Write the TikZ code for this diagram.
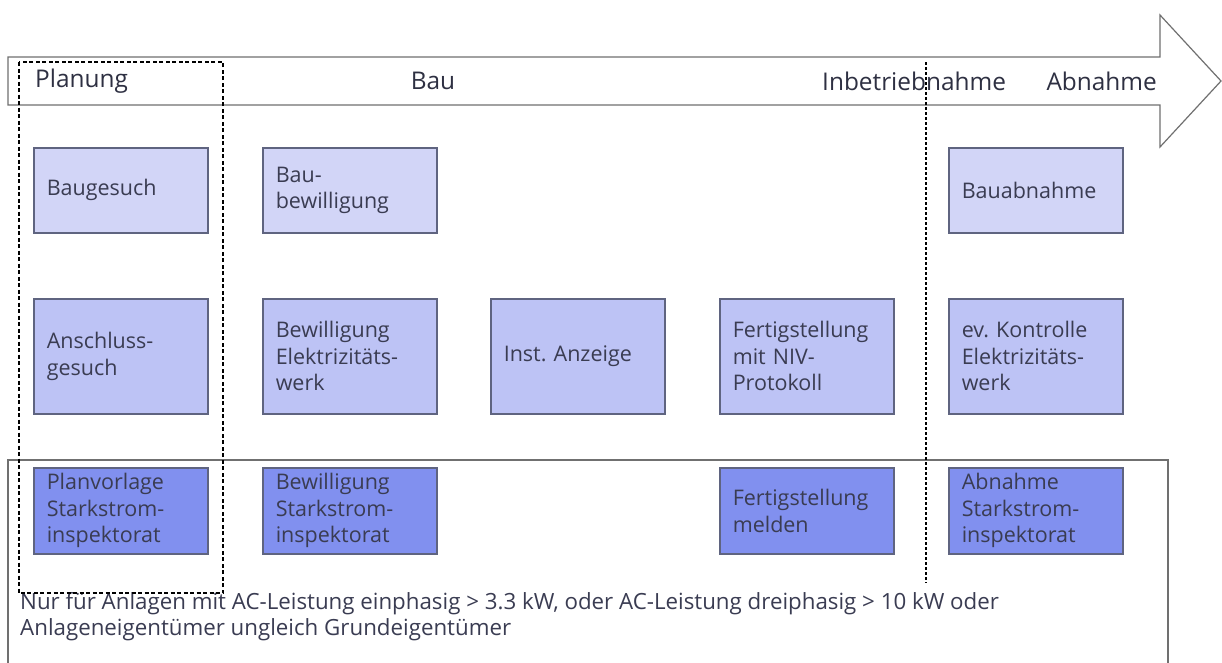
\documentclass[tikz,border=0pt]{standalone}
\usepackage{fontspec}
\setmainfont{Open Sans}
\frenchspacing
\definecolor{rowA}{HTML}{D2D5F7}
\definecolor{rowB}{HTML}{BDC3F5}
\definecolor{rowC}{HTML}{8190EF}
\definecolor{edgec}{HTML}{5F6480}
\definecolor{txt}{HTML}{3A3C52}
\definecolor{outl}{HTML}{707070}
\begin{document}
\begin{tikzpicture}[x=1pt,y=-1pt,
  box/.style={draw=edgec,line width=1.5pt,anchor=north west,minimum width=174pt,
    text width=148pt,align=left,inner sep=0pt,text=txt,
    font=\fontsize{21.5}{26.5}\selectfont},
  boxA/.style={box,fill=rowA,minimum height=85pt},
  boxB/.style={box,fill=rowB,minimum height=115pt},
  boxC/.style={box,fill=rowC,minimum height=86pt},
  phase/.style={inner sep=0pt,text=txt!80!black,font=\fontsize{24.4}{28}\selectfont},
  planline/.style={line width=2.5pt,dash pattern=on 4pt off 2.5pt},
  sepline/.style={line width=2.2pt,dash pattern=on 2.5pt off 2.5pt}]
\useasboundingbox (0,0) rectangle (1222,662);
\fill[white] (0,0) rectangle (1222,662);
% arrow
\draw[outl,line width=1.2pt] (8,57) -- (1160,57) -- (1160,15) -- (1221,81) -- (1160,147) -- (1160,105) -- (8,105) -- cycle;
% bottom frame
\draw[outl,line width=1.2pt] (8,664) -- (8,460) -- (1168,460) -- (1168,664);
% phase labels
\node[phase,anchor=west] (pPlan) at (35,81) {Planung};
\node[phase] (pBau) at (433,81) {Bau};
\node[phase,anchor=west] (pInb) at (822,81) {Inbetriebnahme};
\node[phase,anchor=east] (pAbn) at (1157,81) {Abnahme};
% row 1
\node[boxA] (a1) at (33,147) {Baugesuch};
\node[boxA] (a2) at (262,147) {Bau-\\bewilligung};
\node[boxA] (a5) at (948,147) {Bauabnahme};
% row 2
\node[boxB] (b1) at (33,298) {Anschluss-\\gesuch};
\node[boxB] (b2) at (262,298) {Bewilligung\\Elektrizitäts-\\werk};
\node[boxB] (b3) at (490,298) {Inst. Anzeige};
\node[boxB] (b4) at (719,298) {Fertigstellung\\mit NIV-\\Protokoll};
\node[boxB] (b5) at (948,298) {ev. Kontrolle\\Elektrizitäts-\\werk};
% row 3
\node[boxC] (c1) at (33,467) {Planvorlage\\Starkstrom-\\inspektorat};
\node[boxC] (c2) at (262,467) {Bewilligung\\Starkstrom-\\inspektorat};
\node[boxC] (c4) at (719,467) {Fertigstellung\\melden};
\node[boxC] (c5) at (948,467) {Abnahme\\Starkstrom-\\inspektorat};
% note
\node[anchor=west,align=left,inner sep=0pt,text=txt,font=\fontsize{22.3}{26}\selectfont] (note) at (20,617)
  {Nur für Anlagen mit AC-Leistung einphasig > 3.3 kW, oder AC-Leistung dreiphasig > 10 kW oder\\Anlageneigentümer ungleich Grundeigentümer};
% separators
\draw[planline] (19,62) rectangle (223,593);
\coordinate (vTop) at (926,62);
\coordinate (vBot) at (926,583);
\draw[sepline] (vTop) -- (vBot);
\end{tikzpicture}
\end{document}
